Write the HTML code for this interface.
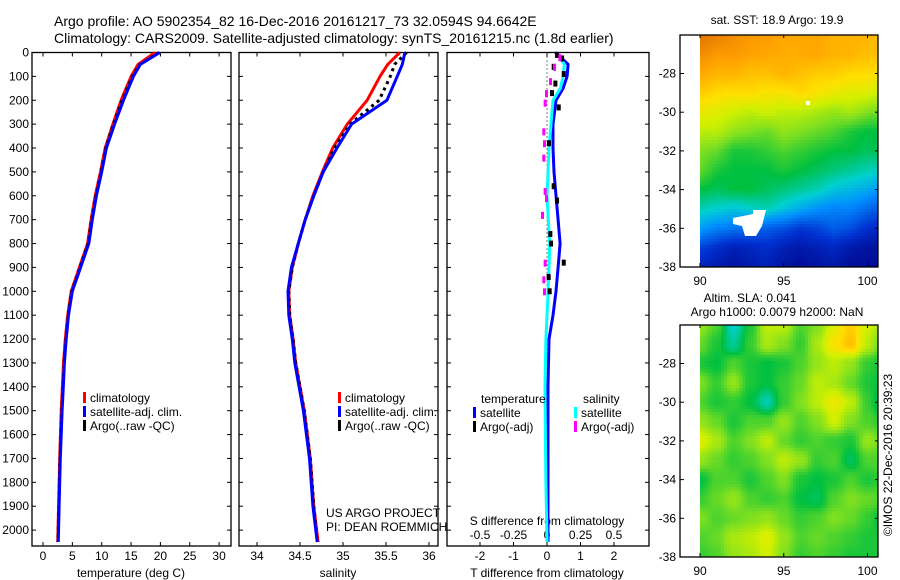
<!DOCTYPE html>
<html><head><meta charset="utf-8">
<style>
body{margin:0;background:#fff;}
svg{display:block;font-family:"Liberation Sans",sans-serif;}
text{fill:#000;}
</style></head>
<body>
<svg id="fig" width="900" height="580" viewBox="0 0 900 580">
<text x="54" y="26" font-size="14">Argo profile: AO 5902354_82 16-Dec-2016 20161217_73 32.0594S 94.6642E</text>
<text x="54" y="43" font-size="14">Climatology: CARS2009. Satellite-adjusted climatology: synTS_20161215.nc (1.8d earlier)</text>
<g id="g1"></g>
<g id="g2"></g>
<g id="g3"></g>
<g id="m1"></g>
<g id="m2"></g>
<text x="777" y="24" font-size="12" text-anchor="middle">sat. SST: 18.9 Argo: 19.9</text>
<text x="750" y="302" font-size="12" text-anchor="middle">Altim. SLA: 0.041</text>
<text x="777" y="316" font-size="12" text-anchor="middle">Argo h1000: 0.0079 h2000: NaN</text>
<text transform="translate(892,455) rotate(-90)" font-size="12" text-anchor="middle">©IMOS 22-Dec-2016 20:39:23</text>
</svg>
<script>
// ---- profile data ----
const depths = [0,50,100,200,300,400,500,600,700,800,900,1000,1100,1200,1300,1400,1500,1700,1900,2050];
const tempClim = [19.1,16.2,15.0,13.3,11.9,10.6,9.8,8.9,8.2,7.6,6.2,4.8,4.2,3.8,3.5,3.3,3.1,2.85,2.65,2.5];
const tempSat  = [19.9,16.6,15.4,13.7,12.2,10.8,10.0,9.1,8.4,7.8,6.4,5.0,4.35,3.95,3.65,3.45,3.25,2.95,2.75,2.6];
const tempArgo = [19.8,16.5,15.2,13.5,12.0,10.7,9.9,9.0,8.3,7.7,6.3,4.9,4.3,3.9,3.6,3.4,3.2,2.9,2.7,2.55];
const salClim = [35.66,35.52,35.43,35.28,35.05,34.88,34.76,34.65,34.56,34.48,34.41,34.37,34.38,34.42,34.45,34.50,34.55,34.62,34.66,34.71];
const salSat  = [35.72,35.69,35.63,35.51,35.10,34.93,34.77,34.66,34.56,34.48,34.40,34.36,34.37,34.41,34.44,34.49,34.54,34.61,34.65,34.70];
const salArgo = [35.74,35.60,35.55,35.42,35.08,34.90,34.77,34.66,34.56,34.48,34.41,34.37,34.38,34.42,34.45,34.50,34.55,34.62,34.66,34.70];
const dDepths = [0,50,100,150,200,300,400,500,600,700,800,900,1000,1100,1200,1400,1600,1800,2050];
const dTsat = [0.25,0.63,0.60,0.48,0.27,0.18,0.18,0.21,0.27,0.33,0.39,0.33,0.27,0.18,0.06,0.03,0.03,0.03,0.03];
const dSsat = [0.075,0.13,0.12,0.10,0.045,0.03,0.015,0.008,0.0,0.01,0.02,0.015,0.008,0.0,-0.008,-0.015,-0.012,-0.008,0.0];
const argoDTdepth = [10,25,60,90,130,170,230,380,560,620,760,800,880,940,1000];
const argoDTval = [0.3,0.45,0.2,0.5,0.25,0.15,0.35,0.06,0.2,0.3,0.1,0.12,0.5,0.05,0.08];
const argoDSdepth = [20,60,120,170,210,330,380,440,580,610,680,880,950,1000];
const argoDSval = [0.1,0.06,0.03,0.0,-0.01,-0.02,-0.015,-0.02,-0.01,0.0,-0.03,-0.01,-0.02,-0.015];
const depthTicks = [0,100,200,300,400,500,600,700,800,900,1000,1100,1200,1300,1400,1500,1600,1700,1800,1900,2000];
const tTicks = [0,5,10,15,20,25,30];
const sTicks = [34,34.5,35,35.5,36];
const dtTicks = [-2,-1,0,1,2];
const dsTicks = [-0.5,-0.25,0,0.25,0.5];
const dsTickLabels = ["-0.5","-0.25","0","0.25","0.5"];

// ---- maps (rows lat -26..-38, cols lon 90..101) ----
const sstGrid = [
[0.92,0.9,0.88,0.86,0.86,0.84,0.84,0.84,0.82,0.82,0.82,0.8],
[0.88,0.86,0.86,0.85,0.84,0.83,0.83,0.84,0.82,0.82,0.80,0.8],
[0.84,0.82,0.82,0.80,0.80,0.82,0.80,0.78,0.78,0.76,0.76,0.74],
[0.78,0.76,0.75,0.76,0.74,0.74,0.76,0.74,0.72,0.70,0.70,0.66],
[0.72,0.70,0.68,0.66,0.68,0.66,0.66,0.64,0.62,0.64,0.60,0.58],
[0.66,0.66,0.62,0.60,0.58,0.62,0.60,0.58,0.56,0.52,0.50,0.50],
[0.60,0.58,0.52,0.52,0.54,0.56,0.54,0.52,0.50,0.50,0.48,0.50],
[0.58,0.52,0.50,0.50,0.50,0.52,0.50,0.48,0.46,0.44,0.42,0.40],
[0.50,0.48,0.50,0.50,0.48,0.46,0.44,0.42,0.38,0.36,0.34,0.30],
[0.42,0.40,0.38,0.40,0.42,0.38,0.34,0.30,0.28,0.28,0.24,0.20],
[0.32,0.28,0.26,0.24,0.22,0.20,0.16,0.18,0.22,0.20,0.14,0.12],
[0.18,0.14,0.10,0.12,0.14,0.10,0.08,0.10,0.12,0.08,0.06,0.06],
[0.12,0.08,0.06,0.08,0.10,0.06,0.04,0.06,0.08,0.04,0.04,0.04]];
const slaGrid = [
[0.62,0.56,0.40,0.52,0.66,0.66,0.56,0.60,0.70,0.78,0.68,0.62],
[0.58,0.52,0.44,0.54,0.64,0.60,0.54,0.64,0.74,0.80,0.66,0.56],
[0.52,0.50,0.56,0.52,0.50,0.52,0.56,0.62,0.66,0.62,0.54,0.50],
[0.60,0.54,0.62,0.52,0.50,0.54,0.58,0.66,0.64,0.58,0.52,0.50],
[0.56,0.52,0.54,0.50,0.42,0.54,0.60,0.66,0.72,0.66,0.54,0.44],
[0.62,0.58,0.52,0.56,0.56,0.62,0.56,0.60,0.68,0.60,0.56,0.52],
[0.70,0.64,0.56,0.60,0.66,0.58,0.54,0.56,0.54,0.52,0.62,0.58],
[0.62,0.58,0.54,0.56,0.60,0.66,0.62,0.54,0.56,0.48,0.56,0.56],
[0.50,0.56,0.56,0.52,0.56,0.60,0.52,0.50,0.52,0.56,0.52,0.54],
[0.54,0.58,0.62,0.56,0.54,0.56,0.50,0.48,0.56,0.60,0.58,0.56],
[0.60,0.56,0.58,0.60,0.62,0.58,0.54,0.56,0.60,0.58,0.54,0.48],
[0.56,0.58,0.64,0.66,0.70,0.62,0.56,0.58,0.56,0.54,0.52,0.52],
[0.54,0.56,0.62,0.64,0.68,0.60,0.54,0.56,0.54,0.52,0.52,0.52]];
const latTicks = [-28,-30,-32,-34,-36,-38];
const lonTicks = [90,95,100];

const NS = "http://www.w3.org/2000/svg";
function mk(parent, tag, attrs, txt){
  const e = document.createElementNS(NS, tag);
  for (const k in attrs) e.setAttribute(k, attrs[k]);
  if (txt !== undefined) e.textContent = txt;
  parent.appendChild(e);
  return e;
}
const TOP = 52.5, BOT = 546;
function yD(d){ return TOP + d*0.2388; }

function frame(g, x0, x1, name){
  const r = mk(g,'rect',{x:x0,y:TOP,width:x1-x0,height:BOT-TOP,fill:'none',stroke:'#000','stroke-width':1.3});
  
  
  depthTicks.forEach(d=>{
    const y = yD(d);
    const t1 = mk(g,'line',{x1:x0,x2:x0+4,y1:y,y2:y,stroke:'#000'});
    
    
    const t2 = mk(g,'line',{x1:x1-4,x2:x1,y1:y,y2:y,stroke:'#000'});
    
    
  });
}
function xtick(g, x, lab, y, top){
  const a = mk(g,'line',{x1:x,x2:x,y1:BOT-4,y2:BOT,stroke:'#000'});
  
  
  if (top){
    const b = mk(g,'line',{x1:x,x2:x,y1:TOP,y2:TOP+4,stroke:'#000'});
    
    
  }
  const t = mk(g,'text',{x:x,y:y,'font-size':12,'text-anchor':'middle'},lab);
  
  
}
function poly(g, xs, ys, color, w, name, dash){
  const pts = xs.map((x,i)=>x.toFixed(1)+','+ys[i].toFixed(1)).join(' ');
  const p = mk(g,'polyline',{points:pts,fill:'none',stroke:color,'stroke-width':w,'stroke-linejoin':'round'});
  if (dash) p.setAttribute('stroke-dasharray',dash);
  
  
}
function legend(g, x, y, color, lab){
  const r = mk(g,'rect',{x:x,y:y-10,width:3,height:11,fill:color});
  
  
  const t = mk(g,'text',{x:x+7,y:y,'font-size':12},lab);
  
  
}

// Panel 1: temperature
const g1 = document.getElementById('g1');
const xT = t => 43 + t*5.87;
frame(g1, 32, 231, 'temperature');
depthTicks.forEach(d=>{
  const t = mk(g1,'text',{x:29,y:yD(d)+4,'font-size':12,'text-anchor':'end'},String(d));
  
  
});
tTicks.forEach(v=>xtick(g1, xT(v), String(v), 560, true));
mk(g1,'text',{x:131,y:577,'font-size':12,'text-anchor':'middle',},'temperature (deg C)');
poly(g1, depths.map(d=>xT(0)), depths.map(yD), 'none', 0, 'spacer');
poly(g1, tempClim.map(xT), depths.map(yD), '#f00', 3, 'temperature-climatology-line');
poly(g1, tempArgo.map(xT), depths.map(yD), '#000', 3, 'temperature-argo-line', '3,4');
poly(g1, tempSat.map(xT), depths.map(yD), '#00f', 3, 'temperature-satellite-line');
legend(g1, 83, 402, '#f00', 'climatology');
legend(g1, 83, 416, '#00f', 'satellite-adj. clim.');
legend(g1, 83, 430, '#000', 'Argo(..raw -QC)');

// Panel 2: salinity
const g2 = document.getElementById('g2');
const xS = s => 257 + (s-34)*86;
frame(g2, 239, 438, 'salinity');
sTicks.forEach(v=>xtick(g2, xS(v), String(v), 560, true));
mk(g2,'text',{x:338,y:577,'font-size':12,'text-anchor':'middle',},'salinity');
poly(g2, salClim.map(xS), depths.map(yD), '#f00', 3, 'salinity-climatology-line');
poly(g2, salArgo.map(xS), depths.map(yD), '#000', 3, 'salinity-argo-line', '3,4');
poly(g2, salSat.map(xS), depths.map(yD), '#00f', 3, 'salinity-satellite-line');
legend(g2, 338, 402, '#f00', 'climatology');
legend(g2, 338, 416, '#00f', 'satellite-adj. clim.');
legend(g2, 338, 430, '#000', 'Argo(..raw -QC)');
mk(g2,'text',{x:326,y:517,'font-size':12,},'US ARGO PROJECT');
mk(g2,'text',{x:326,y:531,'font-size':12,},'PI: DEAN ROEMMICH');

// Panel 3: differences
const g3 = document.getElementById('g3');
const xDT = v => 547 + v*33.5;
const xDS = v => 547 + v*134;
frame(g3, 447, 649, 'difference');
dtTicks.forEach(v=>xtick(g3, xDT(v), String(v), 560, true));
mk(g3,'text',{x:547,y:577,'font-size':12,'text-anchor':'middle',},'T difference from climatology');
dsTicks.forEach((v,i)=>{
  const t = mk(g3,'text',{x:xDS(v),y:539,'font-size':12,'text-anchor':'middle'},dsTickLabels[i]);
  
  
});
mk(g3,'text',{x:547,y:525,'font-size':12,'text-anchor':'middle',},'S difference from climatology');
mk(g3,'line',{x1:547,x2:547,y1:TOP,y2:BOT,stroke:'#000','stroke-dasharray':'1,3',});
poly(g3, dTsat.map(xDT), dDepths.map(yD), '#00f', 3, 'dt-satellite-line');
poly(g3, dSsat.map(xDS), dDepths.map(yD), '#0ff', 3, 'ds-satellite-line');
argoDTdepth.forEach((d,i)=>{
  const r = mk(g3,'rect',{x:xDT(argoDTval[i])-2,y:yD(d)-3,width:4,height:6,fill:'#000'});
  
  
});
argoDSdepth.forEach((d,i)=>{
  const r = mk(g3,'rect',{x:xDS(argoDSval[i])-2,y:yD(d)-3,width:3,height:7,fill:'#f0f'});
  
  
});
mk(g3,'text',{x:481,y:403,'font-size':12,},'temperature');
mk(g3,'text',{x:583,y:403,'font-size':12,},'salinity');
legend(g3, 473, 417, '#00f', 'satellite');
legend(g3, 473, 431, '#000', 'Argo(-adj)');
legend(g3, 574, 417, '#0ff', 'satellite');
legend(g3, 574, 431, '#f0f', 'Argo(-adj)');

// colormap
const stops = [[0,[0,0,128]],[0.15,[0,48,208]],[0.3,[0,144,255]],[0.4,[0,208,208]],[0.5,[0,192,64]],[0.6,[128,224,32]],[0.68,[208,240,0]],[0.75,[255,224,0]],[0.85,[255,160,0]],[0.95,[208,96,0]],[1,[180,70,0]]];
function cmap(v){
  v = Math.max(0,Math.min(1,v));
  for (let i=1;i<stops.length;i++){
    if (v<=stops[i][0]){
      const a=stops[i-1], b=stops[i], f=(v-a[0])/(b[0]-a[0]);
      const c=a[1].map((x,k)=>Math.round(x+(b[1][k]-x)*f));
      return 'rgb('+c.join(',')+')';
    }
  }
  return 'rgb(180,70,0)';
}
function drawMap(id, top, grid, name, cell, smooth){
  const g = document.getElementById(id);
  const X0=680, X1=878, bottom=top+232;
  const lonX = lon => 700 + (lon-90)*16.75;
  const latY = lat => bottom - (lat+38)*19.35;
  const nr = grid.length, nc = grid[0].length;
  for (let y=top; y<bottom; y+=cell){
    for (let x=700; x<X1; x+=cell){
      const lon = 90 + (x+cell/2-700)/16.75;
      const lat = -38 + (bottom-(y+cell/2))/19.35;
      let r = (-26 - lat), c = (lon-90);
      r = Math.max(0,Math.min(nr-1.001,r)); c = Math.max(0,Math.min(nc-1.001,c));
      let v;
      if (smooth){
        const r0=Math.floor(r), c0=Math.floor(c), fr=r-r0, fc=c-c0;
        const sr=fr*fr*(3-2*fr), sc=fc*fc*(3-2*fc);
        v = grid[r0][c0]*(1-sr)*(1-sc)+grid[r0][c0+1]*(1-sr)*sc+grid[r0+1][c0]*sr*(1-sc)+grid[r0+1][c0+1]*sr*sc;
      } else {
        const r0=Math.floor(r), c0=Math.floor(c), fr=r-r0, fc=c-c0;
        v = grid[r0][c0]*(1-fr)*(1-fc)+grid[r0][c0+1]*(1-fr)*fc+grid[r0+1][c0]*fr*(1-fc)+grid[r0+1][c0+1]*fr*fc;
      }
      const e = mk(g,'rect',{x:x,y:y,width:Math.min(cell,X1-x),height:Math.min(cell,bottom-y),fill:cmap(v)});
      
      
    }
  }
  const f = mk(g,'rect',{x:X0,y:top,width:X1-X0,height:bottom-top,fill:'none',stroke:'#000','stroke-width':1.3});
  
  
  latTicks.forEach(l=>{
    const y = latY(l);
    const t = mk(g,'line',{x1:X0,x2:X0+4,y1:y,y2:y,stroke:'#000'});
    
    
    const t2 = mk(g,'line',{x1:X1-3,x2:X1,y1:y,y2:y,stroke:'#000'});
    
    
    const lb = mk(g,'text',{x:676,y:y+4,'font-size':12,'text-anchor':'end'},String(l));
    
    
  });
  lonTicks.forEach(l=>{
    const x = lonX(l);
    const t = mk(g,'line',{x1:x,x2:x,y1:bottom-4,y2:bottom,stroke:'#000'});
    
    
    const t2 = mk(g,'line',{x1:x,x2:x,y1:top,y2:top+3,stroke:'#000'});
    
    
    const lb = mk(g,'text',{x:x,y:bottom+18,'font-size':12,'text-anchor':'middle'},String(l));
    
    
  });
  return {lonX, latY};
}
const mA = drawMap('m1', 35, sstGrid, 'sst', 3, false);
// land/missing patch in SST map
const m1 = document.getElementById('m1');
const hole = mk(m1,'polygon',{points:'733,218 753,214 753,210 766,210 762,226 756,236 745,236 742,226 733,224',fill:'#fff'});


const hole2 = mk(m1,'rect',{x:806,y:101,width:4,height:4,fill:'#fff'});


drawMap('m2', 325, slaGrid, 'sla', 3, true);
</script>
</body></html>
